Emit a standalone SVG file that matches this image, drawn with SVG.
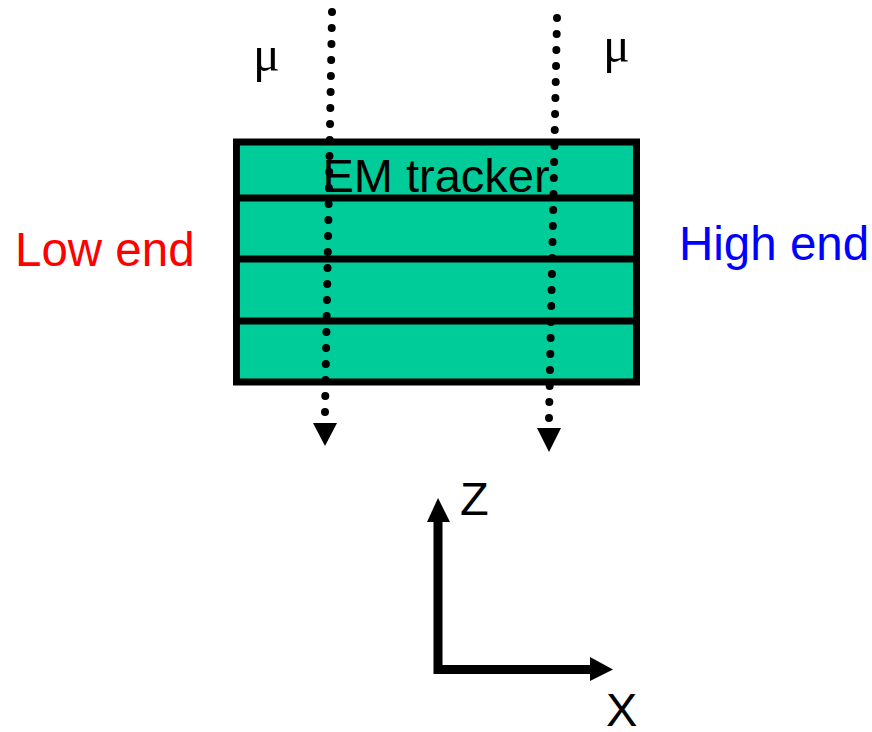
<svg xmlns="http://www.w3.org/2000/svg" width="872" height="732" viewBox="0 0 872 732">
<style>
.lbl{font-family:"Liberation Sans",Arial,sans-serif;font-size:47px}
.side{font-family:"Liberation Sans",Arial,sans-serif;font-size:47.5px}
.mu{font-family:"Liberation Serif","Times New Roman",serif;font-size:50px;fill:#000}
.layer{fill:#00CC99;stroke:#000;stroke-width:7}
.track{stroke:#000;stroke-width:8;stroke-linecap:round;stroke-dasharray:0 16;fill:none}
.axis{stroke:#000;stroke-width:9;fill:none}
</style>
<rect width="872" height="732" fill="#fff"/>
<g id="tracker">
<rect class="layer" x="236.5" y="142" width="400" height="240"/>
<line x1="236.5" y1="198" x2="636.5" y2="198" stroke="#000" stroke-width="7"/>
<line x1="236.5" y1="259" x2="636.5" y2="259" stroke="#000" stroke-width="7"/>
<line x1="236.5" y1="321" x2="636.5" y2="321" stroke="#000" stroke-width="7"/>
<text class="lbl" x="436" y="192" text-anchor="middle" fill="#000">EM tracker</text>
</g>
<g id="low-end"><text class="side" x="15" y="266" fill="#FF0000">Low end</text></g>
<g id="high-end"><text class="side" x="679" y="260" fill="#0000FF">High end</text></g>
<g id="mu-left"><text class="mu" x="253" y="71">μ</text></g>
<g id="mu-right"><text class="mu" x="603" y="62">μ</text></g>
<g id="label-z"><text class="lbl" x="460" y="515" fill="#000">Z</text></g>
<g id="label-x"><text class="lbl" x="606" y="726" fill="#000">X</text></g>
<g id="connectors">
<line class="track" x1="332" y1="12" x2="325" y2="412"/>
<polygon points="313,423 337,423 325,446" fill="#000"/>
<line class="track" x1="557" y1="18" x2="549" y2="418"/>
<polygon points="537,428 561,428 549,452" fill="#000"/>
<polyline class="axis" points="438,518 438,669.5 592,669.5"/>
<polygon points="427,522 450,522 438,498" fill="#000"/>
<polygon points="590,657 590,681 613,669.5" fill="#000"/>
</g>
</svg>
